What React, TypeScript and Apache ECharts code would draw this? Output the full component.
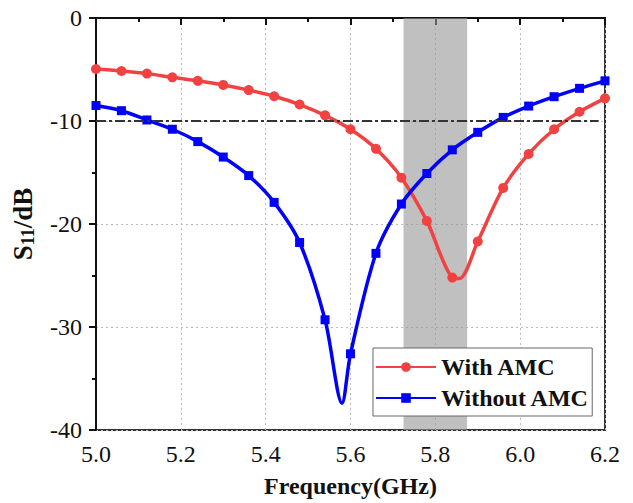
import React, { useEffect, useRef } from "react";
import * as echarts from "echarts";

const markerFreq = [5.0, 5.06, 5.12, 5.18, 5.24, 5.3, 5.36, 5.42, 5.48, 5.54, 5.6, 5.66, 5.72, 5.78, 5.84, 5.9, 5.96, 6.02, 6.08, 6.14, 6.2];
const withAMC = [-4.95, -5.15, -5.4, -5.76, -6.1, -6.5, -7.0, -7.6, -8.4, -9.45, -10.8, -12.7, -15.5, -19.7, -25.2, -21.7, -16.5, -13.2, -10.8, -9.1, -7.8];
const withoutAMC = [-8.5, -9.0, -9.9, -10.8, -12.0, -13.5, -15.3, -17.9, -21.8, -29.3, -32.6, -22.85, -18.06, -15.1, -12.8, -11.1, -9.65, -8.55, -7.64, -6.83, -6.1];
// extra curve points without markers (resonance minima)
const withExtraFreq = [5.857];
const withExtraVal = [-25.3];
const withoutExtraFreq = [5.58];
const withoutExtraVal = [-37.4];

const xTicks = ["5.0", "5.2", "5.4", "5.6", "5.8", "6.0", "6.2"];
const bandStart = 5.725;
const bandEnd = 5.875;
const refLevel = -10;

function buildData(f: number[], v: number[], ef: number[], ev: number[]) {
  const pts: any[] = f.map((x, i) => ({ value: [x, v[i]] }));
  ef.forEach((x, i) => pts.push({ value: [x, ev[i]], symbol: "none" }));
  pts.sort((a, b) => a.value[0] - b.value[0]);
  return pts;
}

const FONT = "'Liberation Serif', 'Times New Roman', serif";

export default function App() {
  const ref = useRef<HTMLDivElement>(null);
  useEffect(() => {
    if (!ref.current) return;
    const chart = echarts.init(ref.current, undefined, { renderer: "svg" });
    const axisCommon = {
      axisLine: { show: true, lineStyle: { color: "#111", width: 2 } },
      axisTick: { show: true, inside: false, length: 7, lineStyle: { color: "#111", width: 2 } },
      minorTick: { show: true, splitNumber: 2, length: 4, lineStyle: { color: "#111", width: 2 } },
      splitLine: { show: true, lineStyle: { color: "#bbb", width: 1, type: [2, 3] } },
      axisLabel: { color: "#111", fontSize: 24, fontFamily: FONT },
      nameTextStyle: { color: "#111", fontSize: 24, fontWeight: "bold", fontFamily: FONT },
    };
    chart.setOption({
      animation: false,
      backgroundColor: "#fff",
      grid: { left: 96, top: 18, width: 509, height: 412, show: true, borderColor: "#333", borderWidth: 2, backgroundColor: "transparent" },
      legend: {
        data: ["With AMC", "Without AMC"],
        orient: "vertical",
        left: 373,
        top: 348,
        padding: [7, 3, 6, 2],
        itemWidth: 60,
        itemHeight: 12,
        itemGap: 7,
        backgroundColor: "#fff",
        borderColor: "#666",
        borderWidth: 1,
        borderRadius: 0,
        textStyle: { color: "#111", fontSize: 24, fontWeight: "bold", fontFamily: FONT },
      },
      xAxis: {
        type: "value",
        min: 5.0,
        max: 6.2,
        interval: 0.2,
        name: "Frequency(GHz)",
        nameLocation: "middle",
        nameGap: 44,
        ...axisCommon,
        axisLabel: {
          ...axisCommon.axisLabel,
          margin: 12,
          formatter: (v: number) => {
            const s = v.toFixed(1);
            return xTicks.includes(s) ? s : "";
          },
        },
      },
      yAxis: {
        type: "value",
        min: -40,
        max: 0,
        interval: 10,
        name: "{s|S}{sub|11}{s|/dB}",
        nameLocation: "middle",
        nameGap: 56,
        ...axisCommon,
        axisLabel: { ...axisCommon.axisLabel, margin: 14 },
        nameTextStyle: {
          ...axisCommon.nameTextStyle,
          rich: {
            s: { fontSize: 27, fontWeight: "bold", fontFamily: FONT, color: "#111", lineHeight: 32, verticalAlign: "middle" },
            sub: { fontSize: 18, fontWeight: "bold", fontFamily: FONT, color: "#111", lineHeight: 32, verticalAlign: "bottom", padding: [0, 0, 2, 0] },
          },
        },
      },
      series: [
        {
          type: "line",
          name: "markers",
          data: [],
          z: 1,
          silent: true,
          markArea: {
            silent: true,
            itemStyle: { color: "rgba(150,150,150,0.6)" },
            data: [[{ xAxis: bandStart }, { xAxis: bandEnd }]],
          },
          markLine: {
            silent: true,
            symbol: "none",
            label: { show: false },
            lineStyle: { color: "#333", width: 2, type: [10, 3, 3, 3] },
            data: [[{ coord: [5.0, refLevel] }, { coord: [6.185, refLevel] }]],
          },
        },
        {
          type: "line",
          name: "With AMC",
          data: buildData(markerFreq, withAMC, withExtraFreq, withExtraVal),
          smooth: 0.3,
          symbol: "circle",
          symbolSize: 10,
          showAllSymbol: true,
          color: "#f24141",
          lineStyle: { color: "#f24141", width: 3.5 },
          itemStyle: { color: "#f24141" },
          z: 3,
        },
        {
          type: "line",
          name: "Without AMC",
          data: buildData(markerFreq, withoutAMC, withoutExtraFreq, withoutExtraVal),
          smooth: 0.3,
          symbol: "rect",
          symbolSize: 9,
          showAllSymbol: true,
          color: "#0000ff",
          lineStyle: { color: "#0000ff", width: 3.5 },
          itemStyle: { color: "#0000ff" },
          z: 4,
        },
      ],
    });
    return () => chart.dispose();
  }, []);
  return <div ref={ref} style={{ position: "fixed", left: 0, top: 0, width: 633, height: 503 }} />;
}
